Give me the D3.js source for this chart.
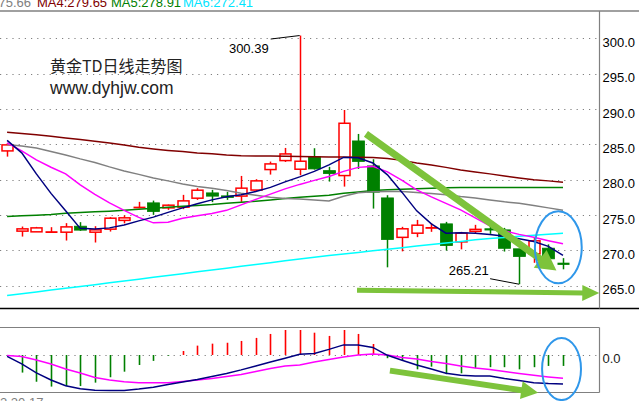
<!DOCTYPE html>
<html><head><meta charset="utf-8">
<script src="https://cdn.jsdelivr.net/npm/d3@7/dist/d3.min.js"></script>
<style>body{margin:0;background:#fff;overflow:hidden}svg{display:block}</style>
</head><body><svg id="c" width="639" height="401"></svg>
<script>
// ---------- data ----------
const opens  = [284.07,272.72,272.62,272.57,272.57,273.42,272.57,273.00,274.24,275.97,276.72,276.01,276.11,277.38,278.13,277.71,277.68,278.53,281.43,282.70,281.48,283.26,281.28,280.58,285.48,281.95,277.42,271.84,272.43,273.14,273.75,271.20,272.69,273.04,272.90,270.22,269.51,270.31,268.12];
const closes = [284.92,273.04,273.18,272.60,273.32,272.86,272.90,274.55,274.60,276.15,275.49,276.39,277.00,278.51,277.67,277.47,278.80,279.83,282.23,283.64,282.61,281.52,280.86,287.98,282.58,278.23,271.53,273.05,273.56,273.21,270.68,272.43,272.97,272.90,270.29,269.13,271.35,268.80,268.08];
const highs  = [285.16,273.37,273.32,273.28,273.85,273.99,273.42,274.70,274.95,276.86,277.04,276.48,277.85,278.80,278.56,278.27,280.53,280.07,282.56,284.49,300.39,284.45,281.81,289.86,286.47,282.89,277.80,273.33,274.31,273.82,274.03,272.62,273.61,273.54,273.18,270.22,271.91,270.85,268.90];
const lows   = [283.26,271.95,272.62,272.48,271.39,272.76,271.11,272.66,273.82,275.97,275.02,275.73,275.83,277.14,276.82,277.14,276.86,278.41,280.72,282.51,280.63,281.43,279.73,279.02,281.52,275.91,267.60,269.86,271.87,272.62,269.97,270.14,272.34,272.34,269.83,265.21,268.24,268.42,267.32];

const maShort = [285.55,283.79,280.82,278.06,275.59,273.11,273.01,273.18,273.58,274.17,274.70,275.37,276.01,276.58,277.14,277.57,277.88,278.32,278.91,279.69,280.39,281.17,282.09,283.15,283.11,282.37,280.68,278.20,275.59,273.75,272.43,272.50,272.43,272.26,271.98,271.63,271.25,270.57,269.30];
const maMid   = [285.20,284.07,282.80,281.76,280.82,279.26,277.92,276.72,275.66,274.67,273.89,273.99,274.53,274.91,275.23,275.66,276.43,277.21,277.95,278.70,279.33,279.90,280.46,281.17,281.74,281.88,281.10,279.90,278.56,277.57,276.65,275.73,274.60,273.47,272.76,272.26,271.84,271.37,270.92];
const ma3     = [284.99,284.78,284.49,284.00,283.50,282.94,282.44,281.81,281.24,280.75,280.25,279.83,279.40,279.05,278.80,278.48,278.09,277.78,277.50,277.35,277.28,277.14,277.00,277.65,278.15,278.30,278.34,278.32,278.20,278.06,277.85,277.61,277.42,277.14,276.86,276.65,276.36,276.01,275.66];
const ma4     = [286.71,286.54,286.36,286.15,285.91,285.69,285.44,285.20,284.92,284.59,284.35,284.14,283.97,283.79,283.67,283.50,283.40,283.36,283.36,283.32,283.29,283.26,283.22,283.22,283.18,283.15,283.01,282.73,282.37,282.09,281.74,281.38,281.10,280.82,280.53,280.25,280.00,279.83,279.65];
const ma5     = [274.78,274.88,274.98,275.09,275.26,275.35,275.45,275.54,275.66,275.80,275.97,276.11,276.25,276.36,276.48,276.65,276.79,276.96,277.14,277.33,277.50,277.66,277.81,278.09,278.27,278.46,278.56,278.63,278.70,278.77,278.84,278.88,278.89,278.90,278.90,278.91,278.91,278.91,278.91];
const ma6     = [263.60,263.85,264.11,264.38,264.63,264.89,265.15,265.41,265.66,265.92,266.19,266.44,266.69,266.96,267.22,267.47,267.74,268.00,268.25,268.52,268.77,269.03,269.27,269.48,269.71,269.93,270.14,270.36,270.60,270.82,271.03,271.26,271.49,271.67,271.83,271.98,272.12,272.28,272.41];

const macdHist = [0,-0.98,-1.49,-1.76,-1.73,-1.73,-1.54,-1.24,-0.93,-0.56,-0.33,-0.04,0.22,0.52,0.63,0.68,0.78,0.95,1.17,1.39,1.39,1.24,1.06,1.39,1.17,0.61,-0.18,-0.32,-0.80,-0.65,-1.07,-1.02,-0.74,-0.68,-0.68,-0.80,-0.68,-0.61,-0.61];
const macdDif  = [-0.08,-0.50,-1.00,-1.39,-1.71,-1.88,-1.96,-1.98,-1.98,-1.90,-1.80,-1.64,-1.50,-1.36,-1.20,-1.03,-0.83,-0.61,-0.39,-0.18,0.04,0.08,0.31,0.56,0.56,0.42,-0.02,-0.29,-0.56,-0.78,-1.02,-1.13,-1.17,-1.17,-1.31,-1.42,-1.54,-1.59,-1.61];
const macdDea  = [-0.03,-0.08,-0.28,-0.50,-0.78,-1.00,-1.25,-1.39,-1.49,-1.54,-1.54,-1.54,-1.47,-1.39,-1.31,-1.20,-1.09,-0.92,-0.75,-0.61,-0.56,-0.39,-0.25,-0.11,0.00,0.06,0.00,-0.14,-0.22,-0.36,-0.47,-0.61,-0.72,-0.81,-0.92,-1.03,-1.13,-1.22,-1.30];

const priceTicks = [300,295,290,285,280,275,270,265];
const macdTicks = [0];
const legendLabels = ["MA3:275.66","MA4:279.65","MA5:278.91","MA6:272.41"];
const titleLines = ["黄金TD日线走势图","www.dyhjw.com"];
const dateLabel = "2.20.17";
const highLabel = "300.39", lowLabel = "265.21";

// ---------- layout ----------
const svg = d3.select("#c");
const W = 639, axisX = 599.5;
const mainTop = 11, mainBottom = 308.5;
const subTop = 327.5, subBottom = 392.5;
const n = closes.length;
const x = d3.scaleLinear().domain([0, n-1]).range([7.1, 563.0]);
const y = d3.scaleLinear().domain([265, 300]).range([285.7, 38.3]);
const ym = d3.scaleLinear().domain([-2.1, 1.54]).range([392.7, 327.3]);
const font = "'Liberation Sans', Arial, sans-serif";

// frame lines
svg.append("line").attr("x1",0).attr("x2",W).attr("y1",mainTop).attr("y2",mainTop).attr("stroke","#808080").attr("stroke-width",1.5);
svg.append("line").attr("x1",0).attr("x2",W).attr("y1",mainBottom).attr("y2",mainBottom).attr("stroke","#000").attr("stroke-width",1.5);
svg.append("line").attr("x1",axisX).attr("x2",axisX).attr("y1",mainTop).attr("y2",mainBottom).attr("stroke","#808080").attr("stroke-width",1.2);
svg.append("line").attr("x1",0).attr("x2",axisX).attr("y1",subTop).attr("y2",subTop).attr("stroke","#808080").attr("stroke-width",1.2);
svg.append("line").attr("x1",0).attr("x2",axisX).attr("y1",subBottom).attr("y2",subBottom).attr("stroke","#808080").attr("stroke-width",1.2);
svg.append("line").attr("x1",axisX).attr("x2",axisX).attr("y1",subTop).attr("y2",subBottom).attr("stroke","#808080").attr("stroke-width",1.2);

// grid lines
svg.append("g").selectAll("line").data(priceTicks).join("line")
  .attr("x1",0).attr("x2",axisX-1).attr("y1",d=>Math.round(y(d))+0.5).attr("y2",d=>Math.round(y(d))+0.5)
  .attr("stroke","#808080").attr("stroke-dasharray","1.2,5").attr("stroke-width",1.2);
svg.append("g").selectAll("line").data(macdTicks).join("line")
  .attr("x1",0).attr("x2",axisX-1).attr("y1",d=>Math.round(ym(d))+0.5).attr("y2",d=>Math.round(ym(d))+0.5)
  .attr("stroke","#808080").attr("stroke-dasharray","1.2,5").attr("stroke-width",1.2);

// axes
const ax = svg.append("g").attr("transform",`translate(${axisX},0)`)
  .call(d3.axisRight(y).tickValues(priceTicks).tickFormat(d3.format(".1f")).tickSize(0).tickPadding(3));
ax.select(".domain").remove();
ax.selectAll("text").attr("font-family",font).attr("font-size",13).attr("fill","#000").attr("dy","0.62em");
const ax2 = svg.append("g").attr("transform",`translate(${axisX},0)`)
  .call(d3.axisRight(ym).tickValues(macdTicks).tickFormat(d3.format(".1f")).tickSize(0).tickPadding(3));
ax2.select(".domain").remove();
ax2.selectAll("text").attr("font-family",font).attr("font-size",13).attr("fill","#1a1a1a").attr("dy","0.55em");

// legend (top, partly cut as in the reference)
const legColors = ["#808080","#800000","#008000","#00e5ff"];
const legX = [31,37,111,183];
svg.append("g").selectAll("text").data(legendLabels).join("text")
  .attr("x",(d,i)=>legX[i]).attr("y",6.5).attr("text-anchor",(d,i)=>i===0?"end":"start")
  .attr("font-family",font).attr("font-size",13).attr("fill",(d,i)=>legColors[i]).text(d=>d);
svg.append("text").attr("x",0).attr("y",407).attr("font-family",font).attr("font-size",13).attr("fill","#808080").text(dateLabel);

// title
svg.append("text").attr("x",50).attr("y",72).attr("font-family","'Noto Sans CJK SC', sans-serif").attr("font-size",16).attr("fill","#222").text(titleLines[0]);
svg.append("text").attr("x",50).attr("y",93.5).attr("font-family",font).attr("font-size",17.5).attr("fill","#222").text(titleLines[1]);

// candles
const idx = d3.range(n);
const cg = svg.append("g");
const bw = 11;
idx.forEach(i=>{
  const up = closes[i] >= opens[i];
  const col = up ? "#ff0000" : "#008000";
  const cx = Math.round(x(i)) + 0.5;
  cg.append("line").attr("x1",cx).attr("x2",cx).attr("y1",y(highs[i])).attr("y2",y(lows[i])).attr("stroke",col).attr("stroke-width",1.5);
  const top = y(Math.max(opens[i],closes[i])), bot = y(Math.min(opens[i],closes[i]));
  if (bot - top < 1.3) {
    cg.append("line").attr("x1",cx-6).attr("x2",cx+6).attr("y1",(top+bot)/2).attr("y2",(top+bot)/2).attr("stroke",col).attr("stroke-width",up?1.8:2.2);
  } else if (up) {
    cg.append("rect").attr("x",cx-bw/2).attr("width",bw).attr("y",top).attr("height",bot-top).attr("fill","#fff").attr("stroke",col).attr("stroke-width",1.5);
  } else {
    cg.append("rect").attr("x",cx-bw/2-0.5).attr("width",bw+1).attr("y",top).attr("height",bot-top).attr("fill",col).attr("stroke",col).attr("stroke-width",0.8);
  }
});

// moving averages
const line = arr => d3.line().x((d,i)=>x(i)).y(d=>y(d))(arr);
[[ma6,"#00ffff"],[ma5,"#008000"],[ma3,"#808080"],[ma4,"#800000"],[maMid,"#ff00ff"],[maShort,"#000080"]].forEach(([arr,c])=>{
  svg.append("path").attr("d",line(arr)).attr("fill","none").attr("stroke",c).attr("stroke-width",1.5);
});

// high / low annotations
const hi = 20, lo = 35;
svg.append("polyline").attr("points",`${x(hi)},${y(highs[hi])} ${x(hi)-29},${y(highs[hi])+3.5}`).attr("fill","none").attr("stroke","#000").attr("stroke-width",1);
svg.append("text").attr("x",x(hi)-31).attr("y",y(highs[hi])+17).attr("text-anchor","end").attr("font-family",font).attr("font-size",13).attr("fill","#000").text(highLabel);
svg.append("polyline").attr("points",`${x(lo)},${y(lows[lo])} ${x(lo)-29},${y(lows[lo])-5.5}`).attr("fill","none").attr("stroke","#000").attr("stroke-width",1);
svg.append("text").attr("x",x(lo)-30.5).attr("y",y(lows[lo])-9.5).attr("text-anchor","end").attr("font-family",font).attr("font-size",13).attr("fill","#000").text(lowLabel);

// MACD panel
const mg = svg.append("g");
idx.forEach(i=>{
  if (macdHist[i]===0) return;
  const cx = Math.round(x(i)) + 0.5;
  mg.append("line").attr("x1",cx).attr("x2",cx).attr("y1",ym(0)).attr("y2",ym(macdHist[i]))
    .attr("stroke",macdHist[i]>0?"#ff0000":"#008000").attr("stroke-width",1.6);
});
const mline = arr => d3.line().x((d,i)=>x(i)).y(d=>ym(d))(arr);
svg.append("path").attr("d",mline(macdDea)).attr("fill","none").attr("stroke","#ff00ff").attr("stroke-width",1.5);
svg.append("path").attr("d",mline(macdDif)).attr("fill","none").attr("stroke","#000080").attr("stroke-width",1.5);

// hand-drawn overlays: arrows and ellipses, positioned in data terms
const arrowCol = "#7dc33b", ringCol = "#2f97ea";
function arrow(x1,y1,x2,y2,w,hl,hw){
  const dx=x2-x1, dy=y2-y1, L=Math.hypot(dx,dy), ux=dx/L, uy=dy/L;
  const bx=x2-ux*hl, by=y2-uy*hl;
  svg.append("line").attr("x1",x1).attr("y1",y1).attr("x2",bx+ux*2).attr("y2",by+uy*2).attr("stroke",arrowCol).attr("stroke-width",w);
  svg.append("polygon").attr("points",`${x2},${y2} ${bx-uy*hw},${by+ux*hw} ${bx+uy*hw},${by-ux*hw}`).attr("fill",arrowCol);
}
arrow(x(24.53), y(286.47), x(37.55), y(267.15), 7, 20, 11);
arrow(x(23.92), y(264.35), x(40.48), y(263.95), 5, 17, 8);
arrow(x(26.17), ym(-0.87), x(36.3), ym(-2.1), 6, 17, 9);

svg.append("ellipse").attr("cx",x(37.68)).attr("cy",y(270.43)).attr("rx",x(1.6)-x(0)).attr("ry",y(265)-y(270.09))
  .attr("fill","none").attr("stroke",ringCol).attr("stroke-width",2);
svg.append("ellipse").attr("cx",x(37.9)).attr("cy",ym(-0.78)).attr("rx",x(1.33)-x(0)).attr("ry",ym(-1.73)-ym(0))
  .attr("fill","none").attr("stroke",ringCol).attr("stroke-width",2);
</script></body></html>
